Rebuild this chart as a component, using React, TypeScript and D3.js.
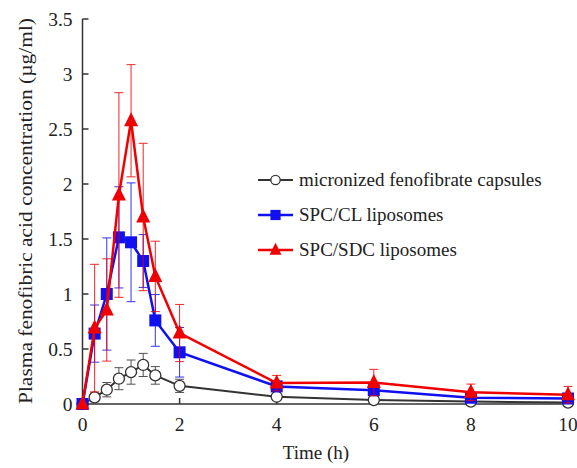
import React from 'react';
import * as d3 from 'd3';

// sampling times (h)
const times = [0, 0.25, 0.5, 0.75, 1, 1.25, 1.5, 2, 4, 6, 8, 10];

// mean plasma concentration (µg/ml) and SD per formulation
const capsuleMean = [0, 0.06, 0.13, 0.23, 0.29, 0.355, 0.26, 0.165, 0.066, 0.036, 0.022, 0.013];
const capsuleSd = [0, 0.04, 0.065, 0.1, 0.11, 0.105, 0.08, 0.06, 0.02, 0.01, 0.01, 0.01];
const clMean = [0, 0.64, 1.0, 1.515, 1.47, 1.3, 0.76, 0.47, 0.16, 0.125, 0.057, 0.05];
const clSd = [0, 0.26, 0.51, 0.46, 0.54, 0.24, 0.235, 0.225, 0.02, 0.02, 0.02, 0.02];
const sdcMean = [0, 0.69, 0.855, 1.9, 2.575, 1.7, 1.16, 0.645, 0.19, 0.195, 0.106, 0.085];
const sdcSd = [0, 0.58, 0.465, 0.93, 0.51, 0.67, 0.32, 0.26, 0.07, 0.12, 0.075, 0.075];

const seriesNames = ['micronized fenofibrate capsules', 'SPC/CL liposomes', 'SPC/SDC liposomes'];

const xTicks = [0, 2, 4, 6, 8, 10];
const yTicks = [0, 0.5, 1, 1.5, 2, 2.5, 3, 3.5];

const width = 577;
const height = 468;
const font = '"Liberation Serif", "Times New Roman", serif';

type Kind = 'circle' | 'square' | 'triangle';

const Marker = ({ kind, x, y, color, s = 1 }: { kind: Kind; x: number; y: number; color: string; s?: number }) => {
  if (kind === 'circle') {
    return <circle cx={x} cy={y} r={5.5 * s} fill="#fff" stroke={color} strokeWidth={1.3} />;
  }
  if (kind === 'square') {
    const h = 6 * s;
    return <rect x={x - h} y={y - h} width={h * 2} height={h * 2} fill={color} />;
  }
  const pts = [
    [x, y - 8.5 * s],
    [x - 7 * s, y + 5.5 * s],
    [x + 7 * s, y + 5.5 * s],
  ];
  return <polygon points={pts.map(p => p.join(',')).join(' ')} fill={color} />;
};

export default function App() {
  const x = d3.scaleLinear().domain([0, 10]).range([82.5, 568]);
  const y = d3.scaleLinear().domain([0, 3.5]).range([404, 19]);

  const series = [
    { name: seriesNames[0], mean: capsuleMean, sd: capsuleSd, color: '#333333', kind: 'circle' as Kind, lw: 2 },
    { name: seriesNames[1], mean: clMean, sd: clSd, color: '#1010f0', kind: 'square' as Kind, lw: 2.5 },
    { name: seriesNames[2], mean: sdcMean, sd: sdcSd, color: '#f00000', kind: 'triangle' as Kind, lw: 2.5 },
  ];

  const line = d3.line<number>()
    .x((_, i) => x(times[i]))
    .y(d => y(d));

  const axisColor = '#333';

  return (
    <svg width={width} height={height} style={{ position: 'absolute', left: 0, top: 0, background: '#fff' }}
      fontFamily={font}>
      {/* axes */}
      <line x1={x(0)} x2={x(0)} y1={y(3.5)} y2={y(0)} stroke={axisColor} strokeWidth={1.5} />
      <line x1={x(0)} x2={x(10) + 1} y1={y(0)} y2={y(0)} stroke={axisColor} strokeWidth={1.5} />
      {yTicks.map(t => (
        <g key={'y' + t}>
          <line x1={x(0)} x2={x(0) + 6} y1={y(t)} y2={y(t)} stroke={axisColor} strokeWidth={1.5} />
          <text x={72.5} y={y(t)} dy="0.35em" textAnchor="end" fontSize={19.5} fill="#222">{t}</text>
        </g>
      ))}
      {xTicks.map(t => (
        <g key={'x' + t}>
          <line x1={x(t)} x2={x(t)} y1={y(0)} y2={y(0) - 6} stroke={axisColor} strokeWidth={1.5} />
          <text x={x(t)} y={431} textAnchor="middle" fontSize={19.5} fill="#222">{t}</text>
        </g>
      ))}
      <text x={316} y={459} textAnchor="middle" fontSize={19} fill="#222">Time (h)</text>
      <text transform={`translate(32,211) rotate(-90)`} textAnchor="middle" fontSize={19.5} fill="#222"
        textLength={386} lengthAdjust="spacingAndGlyphs">
        Plasma fenofibric acid concentration (µg/ml)
      </text>

      {/* series: error bars, line, markers */}
      {series.map(s => (
        <g key={s.name}>
          {s.mean.map((m, i) => s.sd[i] > 0 && (
            <g key={i} stroke={s.color} strokeWidth={1} opacity={0.85}>
              <line x1={x(times[i])} x2={x(times[i])} y1={y(m + s.sd[i])} y2={y(m - s.sd[i])} />
              <line x1={x(times[i]) - 4.5} x2={x(times[i]) + 4.5} y1={y(m + s.sd[i])} y2={y(m + s.sd[i])} />
              <line x1={x(times[i]) - 4.5} x2={x(times[i]) + 4.5} y1={y(m - s.sd[i])} y2={y(m - s.sd[i])} />
            </g>
          ))}
          <path d={line(s.mean) || ''} fill="none" stroke={s.color} strokeWidth={s.lw} />
          {s.mean.map((m, i) => (
            <Marker key={i} kind={s.kind} x={x(times[i])} y={y(m)} color={s.color} />
          ))}
        </g>
      ))}

      {/* legend */}
      {series.map((s, i) => {
        const ly = 180 + i * 35;
        return (
          <g key={'lg' + i}>
            <line x1={258} x2={293} y1={ly} y2={ly} stroke={s.color} strokeWidth={s.lw} />
            <Marker kind={s.kind} x={275.5} y={ly} color={s.color} s={0.85} />
            <text x={299} y={ly} dy="0.33em" fontSize={19} fill="#222">{s.name}</text>
          </g>
        );
      })}
    </svg>
  );
}
